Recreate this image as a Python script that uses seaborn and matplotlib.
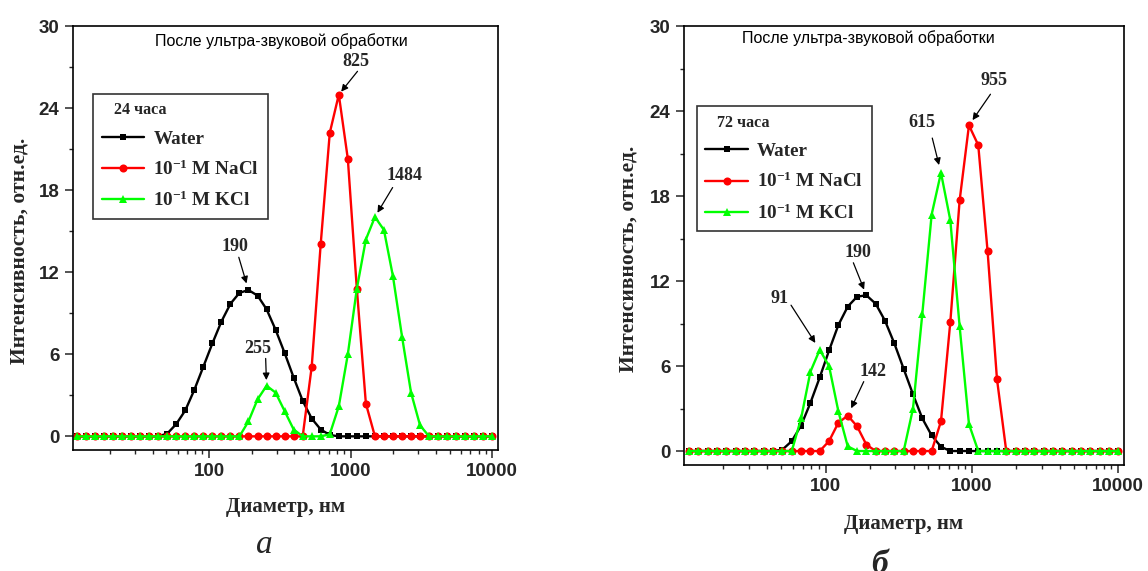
import matplotlib
matplotlib.use("Agg")
import matplotlib.pyplot as plt
from matplotlib.ticker import MultipleLocator, LogLocator, FixedLocator, FixedFormatter, NullFormatter
from matplotlib.lines import Line2D
import seaborn as sns
import pandas as pd

# Size bins of the DLS instrument, nm
diam = [11.70, 13.54, 15.69, 18.17, 21.04, 24.36, 28.21, 32.67, 37.84, 43.82,
        50.75, 58.77, 68.06, 78.82, 91.28, 105.7, 122.4, 141.8, 164.2, 190.1,
        220.2, 255.0, 295.3, 342.0, 396.1, 458.7, 531.2, 615.1, 712.4, 825.0,
        955.4, 1106, 1281, 1484, 1718, 1990, 2305, 2669, 3091, 3580,
        4145, 4801, 5560, 6439, 7456, 8635, 10000]

# 24 h intensity distributions
water_24 = [0]*10 + [0.2, 0.9, 1.9, 3.4, 5.1, 6.8, 8.4, 9.7, 10.5, 10.7,
                     10.3, 9.3, 7.8, 6.1, 4.3, 2.6, 1.3, 0.5, 0.1] + [0]*18
nacl_24 = [0]*26 + [5.1, 14.1, 22.2, 25.0, 20.3, 10.8, 2.4] + [0]*14
kcl_24 = [0]*19 + [1.1, 2.7, 3.7, 3.2, 1.85, 0.5, 0, 0, 0, 0.15, 2.2, 6.0,
                   10.8, 14.4, 16.05, 15.1, 11.7, 7.3, 3.2, 0.8] + [0]*8

# 72 h intensity distributions
water_72 = [0]*10 + [0.1, 0.7, 1.8, 3.4, 5.2, 7.1, 8.9, 10.2, 10.9, 11.0,
                     10.4, 9.2, 7.6, 5.8, 4.0, 2.3, 1.1, 0.3] + [0]*19
nacl_72 = [0]*15 + [0.7, 2.0, 2.5, 1.75, 0.45, 0, 0, 0, 0, 0, 0, 0,
                    2.1, 9.1, 17.7, 23.0, 21.6, 14.1, 5.1] + [0]*13
kcl_72 = [0]*12 + [2.3, 5.6, 7.15, 6.0, 2.8, 0.33, 0, 0, 0, 0, 0, 0,
                   3.0, 9.7, 16.7, 19.65, 16.3, 8.8, 1.9] + [0]*16

series_names = ["Water", "10$^{-1}$ M NaCl", "10$^{-1}$ M KCl"]
colors = ["#000000", "#FF0000", "#00FF00"]
markers = ["s", "o", "^"]
msizes = [5.0, 5.8, 6.4]

peak_labels_24 = [("190", water_24, 190.1), ("825", nacl_24, 825.0),
                  ("1484", kcl_24, 1484), ("255", kcl_24, 255.0)]
peak_labels_72 = [("190", water_72, 190.1), ("955", nacl_72, 955.4),
                  ("615", kcl_72, 615.1), ("91", kcl_72, 91.28),
                  ("142", nacl_72, 141.8)]

sns.set_theme(style="ticks")
plt.rcParams.update({
    "mathtext.fontset": "custom",
    "mathtext.rm": "Liberation Serif:bold",
    "mathtext.bf": "Liberation Serif:bold",
    "mathtext.it": "Liberation Serif:bold",
    "mathtext.default": "rm",
    "axes.linewidth": 1.2,
})
plt.rcParams["font.family"] = ["Liberation Sans", "DejaVu Sans"]

SERIF = "Liberation Serif"
SANS = "Liberation Sans"

fig = plt.figure(figsize=(11.48, 5.71), dpi=100)
ax_a = fig.add_axes([0.0633, 0.2119, 0.3702, 0.7421])
ax_b = fig.add_axes([0.5955, 0.1853, 0.3840, 0.7688])


def draw_panel(ax, ys, xlim):
    for y, c, m, ms in zip(ys, colors, markers, msizes):
        df = pd.DataFrame({"d": diam, "I": y})
        sns.lineplot(data=df, x="d", y="I", ax=ax, color=c, marker=m,
                     markersize=ms, markeredgewidth=0, linewidth=1.7,
                     sort=False, legend=False)
    ax.set_xscale("log")
    ax.set_xlim(*xlim)
    ax.set_ylim(-1, 30)
    ax.yaxis.set_major_locator(MultipleLocator(6))
    ax.yaxis.set_minor_locator(MultipleLocator(3))
    ax.xaxis.set_major_locator(FixedLocator([100, 1000, 10000]))
    ax.xaxis.set_major_formatter(FixedFormatter(["100", "1000", "10000"]))
    ax.xaxis.set_minor_locator(LogLocator(base=10, subs=range(2, 10)))
    ax.xaxis.set_minor_formatter(NullFormatter())
    ax.tick_params(which="major", direction="out", length=6, width=1.1,
                   pad=3.5, top=False, right=False)
    ax.tick_params(which="minor", direction="out", length=3, width=1.0,
                   top=False, right=False)
    for lab in ax.get_xticklabels() + ax.get_yticklabels():
        lab.set_fontfamily(SANS)
        lab.set_fontweight("bold")
        lab.set_fontsize(13.5)
    for s in ax.spines.values():
        s.set_visible(True)
        s.set_color("black")
        s.set_linewidth(1.2)
    ax.set_facecolor("white")
    ax.grid(False)


draw_panel(ax_a, [water_24, nacl_24, kcl_24], (10.91, 10910))
draw_panel(ax_b, [water_72, nacl_72, kcl_72], (10.72, 11040))

# Axis labels
for ax, xl_y, yl_x, yl_y in [(ax_a, -0.134, -0.125, 0.471),
                             (ax_b, -0.135, -0.126, 0.469)]:
    ax.set_xlabel("Диаметр, нм", fontfamily=SERIF, fontweight="bold",
                  fontsize=15)
    ax.xaxis.label.set_va("center")
    ax.xaxis.set_label_coords(0.5, xl_y)
    ax.set_ylabel("Интенсивность, отн.ед.", fontfamily=SERIF,
                  fontweight="bold", fontsize=15.5)
    ax.yaxis.label.set_va("center")
    ax.yaxis.set_label_coords(yl_x, yl_y)

# Header inside each panel
ax_a.text(0.491, 0.966, "После ультра-звуковой обработки", transform=ax_a.transAxes,
          ha="center", va="center", fontfamily=SANS, fontsize=11.5, color="black")
ax_b.text(0.420, 0.974, "После ультра-звуковой обработки", transform=ax_b.transAxes,
          ha="center", va="center", fontfamily=SANS, fontsize=11.5, color="black")


# Legends
def add_legend(ax, title, anchor):
    handles = [Line2D([], [], color=c, marker=m, markersize=ms,
                      markeredgewidth=0, linewidth=1.7)
               for c, m, ms in zip(colors, markers, msizes)]
    leg = ax.legend(handles, series_names, title=title, loc="upper left",
                    bbox_to_anchor=anchor, borderaxespad=0, frameon=True,
                    fancybox=False, framealpha=1, edgecolor="#333333",
                    prop={"family": SERIF, "weight": "bold", "size": 13.8},
                    title_fontproperties={"family": SERIF, "weight": "bold",
                                          "size": 11.5},
                    handlelength=2.2, handletextpad=0.5, labelspacing=0.62,
                    borderpad=0.45, numpoints=1, alignment="left")
    leg.get_frame().set_linewidth(1.2)
    return leg


add_legend(ax_a, "   24 часа", (0.048, 0.841))
add_legend(ax_b, "   72 часа", (0.030, 0.818))

# Peak annotations: label offset, arrow start offset, arrow tip gap (pixels)
PX = 72 / 100.0
ann_a = {
    "190": ((-14, -43.7), (-9.7, -32.8), (-1.3, -6.8)),
    "825": ((17, -33), (18.7, -23.3), (3.5, -1.4)),
    "1484": ((29.5, -41), (17.7, -29.4), (3.5, -3.4)),
    "255": ((-8.7, -36.9), (-0.9, -27.3), (1.8, -5.4)),
}
ann_b = {
    "190": ((-8.8, -42.4), (-13, -32.5), (-4.4, -4.2)),
    "955": ((25.1, -44.6), (21.5, -31.1), (2.9, -5.6)),
    "615": ((-19, -50.3), (-8.7, -34.7), (-1.4, -7.8)),
    "91": ((-40.4, -51.7), (-28.7, -44.6), (-8.1, 0.7)),
    "142": ((25.1, -44.6), (16, -34), (6.9, -4.2)),
}


def annotate_arrows(ax, labels, offsets):
    for text, ys, xd in labels:
        yv = ys[diam.index(xd)]
        (tx, ty), (sx, sy), (ex, ey) = offsets[text]
        ax.annotate(text, xy=(xd, yv), xytext=(tx * PX, -ty * PX),
                    textcoords="offset points", ha="center", va="center",
                    fontfamily=SERIF, fontweight="bold", fontsize=13)
        # arrow from just below the label to the edge of the marker
        ax.annotate("", xy=(xd, yv), xytext=(sx * PX, -sy * PX),
                    textcoords="offset points",
                    arrowprops=dict(arrowstyle="-|>", color="black", lw=0.9,
                                    mutation_scale=10, shrinkA=0,
                                    shrinkB=((ex ** 2 + ey ** 2) ** 0.5) * PX))


annotate_arrows(ax_a, peak_labels_24, ann_a)
annotate_arrows(ax_b, peak_labels_72, ann_b)

# Panel captions
fig.text(264 / 1148, 1 - 553 / 571, "а", ha="center", va="baseline",
         fontfamily=SERIF, fontstyle="italic", fontsize=24)
fig.text(880 / 1148, 1 - 573 / 571, "б", ha="center", va="baseline",
         fontfamily=SERIF, fontstyle="italic", fontweight="bold", fontsize=24)

fig.patch.set_facecolor("white")
fig.savefig("out.png", dpi=100, facecolor="white")
